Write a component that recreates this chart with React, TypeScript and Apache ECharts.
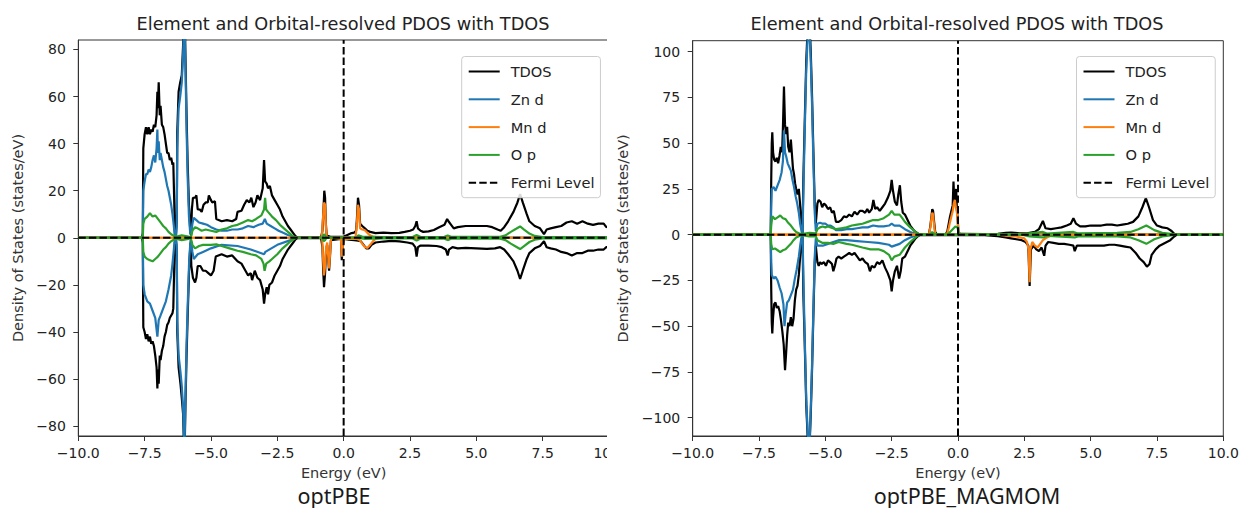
import { useEffect, useRef } from "react";
import * as echarts from "echarts";

// ---------- axis ticks ----------
const X_TICKS = [-10, -7.5, -5, -2.5, 0, 2.5, 5, 7.5, 10];
const PBE_Y_TICKS = [-80, -60, -40, -20, 0, 20, 40, 60, 80];
const MAG_Y_TICKS = [-100, -75, -50, -25, 0, 25, 50, 75, 100];

const TITLE = "Element and Orbital-resolved PDOS with TDOS";
const X_NAME = "Energy (eV)";
const Y_NAME = "Density of States (states/eV)";
const LEGEND_NAMES = ["TDOS", "Zn d", "Mn d", "O p", "Fermi Level"];

// ---------- optPBE : [energy (eV), DOS (states/eV)], spin up > 0, spin down < 0 ----------
const PBE_TDOS_UP = [
  [-10, 0], [-7.6, 0], [-7.57, 2], [-7.55, 38], [-7.5, 44], [-7.45, 47], [-7.4, 44], [-7.35, 47], [-7.3, 44],
  [-7.25, 46], [-7.2, 45], [-7.15, 48], [-7.1, 47], [-7.05, 52], [-7.02, 62], [-7.0, 55], [-6.97, 66], [-6.93, 52],
  [-6.9, 56], [-6.85, 48], [-6.8, 47], [-6.75, 44], [-6.7, 40], [-6.65, 36], [-6.6, 36], [-6.55, 33], [-6.5, 34],
  [-6.45, 31], [-6.42, 32], [-6.39, 18], [-6.36, 3], [-6.32, 1], [-6.29, 8], [-6.27, 45], [-6.22, 62], [-6.16, 66],
  [-6.1, 69], [-6.05, 82], [-6.0, 100], [-5.96, 76], [-5.92, 52], [-5.88, 32], [-5.83, 14], [-5.78, 3], [-5.75, 1],
  [-5.72, 12], [-5.68, 17], [-5.6, 17], [-5.55, 18], [-5.5, 12], [-5.42, 12], [-5.35, 11], [-5.28, 14], [-5.2, 15],
  [-5.12, 15], [-5.08, 18], [-5.0, 16], [-4.95, 15], [-4.85, 15.5], [-4.8, 8], [-4.6, 7], [-4.4, 7.5], [-4.2, 7],
  [-4.05, 8], [-4.0, 11], [-3.85, 11.5], [-3.75, 14], [-3.65, 16], [-3.55, 15], [-3.48, 17], [-3.4, 13], [-3.32, 15],
  [-3.25, 18], [-3.15, 16], [-3.05, 21], [-3.0, 33], [-2.96, 24], [-2.9, 23], [-2.85, 21], [-2.78, 22], [-2.7, 18],
  [-2.6, 16], [-2.5, 14], [-2.4, 12], [-2.3, 9], [-2.2, 7], [-2.1, 5], [-2.0, 3.5], [-1.9, 2], [-1.8, 0.5],
  [-1.75, 0.2], [-0.85, 0.2], [-0.8, 3], [-0.76, 12], [-0.73, 20], [-0.7, 17], [-0.67, 6], [-0.64, 1], [-0.5, 0.4],
  [-0.1, 0.4], [0.0, 0.5], [0.1, 1], [0.2, 1.5], [0.3, 2], [0.4, 2.2], [0.47, 3], [0.5, 8], [0.54, 17], [0.58, 14],
  [0.62, 6], [0.7, 5], [0.8, 4], [0.9, 3], [1.0, 2.5], [1.2, 2], [1.5, 2.2], [1.8, 2], [2.1, 2.1], [2.3, 2.5],
  [2.5, 3], [2.62, 3.5], [2.7, 5], [2.75, 7], [2.8, 4], [2.9, 3], [3.0, 2.5], [3.2, 2.7], [3.4, 3.3], [3.6, 4.5],
  [3.8, 5.5], [3.9, 8], [3.95, 7], [4.05, 5.5], [4.15, 4], [4.3, 4.5], [4.6, 5], [5.0, 5], [5.4, 5], [5.6, 4.5],
  [5.8, 3.5], [5.92, 3], [6.05, 4.5], [6.2, 7], [6.4, 11], [6.55, 15], [6.65, 18.5], [6.75, 15], [6.9, 10],
  [7.0, 7], [7.2, 5], [7.4, 4], [7.55, 1.5], [7.65, 3.5], [7.8, 4], [8.0, 4.5], [8.2, 5], [8.4, 6.5], [8.6, 7],
  [8.8, 6], [9.0, 7], [9.2, 6], [9.4, 5.5], [9.6, 6], [9.8, 6], [9.9, 4.5], [10, 5],
];
const PBE_TDOS_DN = [
  [-10, 0], [-7.6, 0], [-7.57, -2], [-7.55, -38], [-7.5, -40], [-7.45, -43], [-7.4, -41], [-7.35, -44], [-7.3, -42],
  [-7.25, -45], [-7.2, -44], [-7.15, -46], [-7.1, -50], [-7.05, -55], [-7.02, -64], [-7.0, -56], [-6.97, -62],
  [-6.93, -50], [-6.9, -52], [-6.85, -48], [-6.8, -46], [-6.75, -42], [-6.7, -40], [-6.65, -37], [-6.6, -36],
  [-6.55, -34], [-6.5, -33], [-6.45, -32], [-6.42, -30], [-6.39, -15], [-6.36, -2], [-6.32, -1], [-6.29, -6],
  [-6.27, -40], [-6.22, -55], [-6.15, -62], [-6.1, -68], [-6.05, -75], [-6.0, -95], [-5.96, -70], [-5.92, -50],
  [-5.87, -30], [-5.82, -12], [-5.77, -2], [-5.74, -12], [-5.68, -17], [-5.6, -19], [-5.55, -17], [-5.5, -12],
  [-5.4, -12], [-5.3, -14], [-5.2, -14], [-5.1, -15], [-5.0, -16], [-4.9, -14], [-4.82, -8], [-4.6, -7], [-4.4, -8],
  [-4.2, -7.5], [-4.0, -10], [-3.85, -11], [-3.7, -14], [-3.6, -16], [-3.5, -15], [-3.45, -18], [-3.35, -14],
  [-3.25, -17], [-3.15, -18], [-3.05, -22], [-3.0, -28], [-2.96, -24], [-2.9, -21], [-2.85, -24], [-2.8, -20],
  [-2.7, -19], [-2.6, -16], [-2.5, -14], [-2.4, -12], [-2.3, -9], [-2.2, -7], [-2.1, -5], [-2.0, -3.5], [-1.9, -2],
  [-1.8, -0.5], [-1.75, -0.2], [-0.85, -0.2], [-0.8, -4], [-0.77, -14], [-0.74, -21], [-0.7, -15], [-0.66, -5],
  [-0.62, -3], [-0.58, -9], [-0.55, -14], [-0.52, -9], [-0.48, -1], [-0.1, -0.5], [-0.07, -9.5], [-0.03, -3],
  [0.0, -0.5], [0.2, -0.8], [0.4, -1], [0.55, -1.2], [0.65, -1.5], [0.75, -3], [0.85, -4.5], [0.95, -4.5],
  [1.05, -3], [1.2, -2], [1.5, -1.6], [1.8, -1.3], [2.1, -1.5], [2.4, -2], [2.6, -2.5], [2.7, -4], [2.75, -8],
  [2.8, -4], [2.9, -3.3], [3.2, -3.3], [3.5, -3.5], [3.7, -4], [3.85, -5], [3.92, -7.5], [3.97, -5], [4.1, -4],
  [4.3, -4.5], [4.6, -4.3], [5.0, -4.5], [5.4, -4.7], [5.7, -4.5], [5.9, -4], [6.05, -5], [6.2, -7], [6.4, -10],
  [6.55, -14], [6.65, -17.5], [6.75, -14], [6.9, -9], [7.0, -6.5], [7.2, -4.5], [7.4, -3.5], [7.55, -1.5],
  [7.65, -4], [7.8, -4.5], [8.0, -5], [8.2, -6], [8.4, -6.5], [8.6, -7.5], [8.8, -6.5], [9.0, -6.5], [9.2, -5.5],
  [9.4, -5.5], [9.6, -5], [9.8, -5], [9.9, -4], [10, -4],
];
const PBE_ZN_UP = [
  [-10, 0], [-7.57, 0], [-7.55, 20], [-7.5, 24], [-7.45, 27], [-7.4, 27], [-7.35, 29], [-7.3, 28], [-7.25, 30],
  [-7.2, 33], [-7.15, 35], [-7.1, 32], [-7.05, 38], [-7.02, 46], [-7.0, 36], [-6.97, 41], [-6.93, 33], [-6.9, 36],
  [-6.85, 33], [-6.8, 30], [-6.75, 28], [-6.7, 25], [-6.65, 22], [-6.6, 20], [-6.55, 17], [-6.5, 14], [-6.45, 10],
  [-6.4, 5], [-6.37, 1], [-6.32, 0.5], [-6.29, 5], [-6.27, 38], [-6.22, 55], [-6.16, 60], [-6.1, 66], [-6.05, 78],
  [-6.0, 96], [-5.96, 72], [-5.92, 46], [-5.88, 26], [-5.83, 9], [-5.78, 1.5], [-5.74, 2], [-5.7, 6], [-5.65, 8.5],
  [-5.55, 7.5], [-5.45, 6.5], [-5.3, 6], [-5.15, 5.5], [-5.0, 4.5], [-4.8, 3.5], [-4.6, 3], [-4.4, 3], [-4.2, 3.5],
  [-4.0, 3.5], [-3.8, 4], [-3.6, 5], [-3.4, 4.5], [-3.2, 5.5], [-3.05, 6], [-2.97, 8], [-2.9, 6], [-2.75, 5],
  [-2.6, 4], [-2.45, 3], [-2.3, 2.2], [-2.1, 1.2], [-1.95, 0.5], [-1.8, 0], [10, 0],
];
const PBE_ZN_DN = [
  [-10, 0], [-7.57, 0], [-7.55, -20], [-7.5, -24], [-7.4, -27], [-7.3, -28], [-7.2, -31], [-7.1, -34],
  [-7.02, -42], [-6.97, -35], [-6.9, -33], [-6.8, -30], [-6.7, -27], [-6.6, -22], [-6.5, -16], [-6.45, -11],
  [-6.4, -5], [-6.37, -1], [-6.32, -0.5], [-6.29, -3], [-6.27, -35], [-6.22, -50], [-6.15, -57], [-6.1, -63],
  [-6.05, -72], [-6.0, -92], [-5.96, -66], [-5.92, -45], [-5.87, -26], [-5.82, -9], [-5.77, -1], [-5.74, -2],
  [-5.7, -6], [-5.65, -9], [-5.5, -7], [-5.3, -6], [-5.0, -4.5], [-4.6, -3], [-4.0, -3.5], [-3.5, -5], [-3.0, -7],
  [-2.95, -6], [-2.5, -3], [-2.0, -1], [-1.8, 0], [10, 0],
];
const PBE_MN_UP = [
  [-10, 0], [-0.82, 0], [-0.78, 8], [-0.74, 15], [-0.7, 14], [-0.67, 5], [-0.64, 0.5], [-0.6, 0], [0.45, 0.3],
  [0.5, 6], [0.54, 14], [0.58, 12], [0.62, 4], [0.7, 3.5], [0.8, 3.2], [0.9, 2], [1.0, 1], [1.1, 0.5], [1.3, 0.2],
  [1.6, 0], [10, 0],
];
const PBE_MN_DN = [
  [-10, 0], [-0.81, 0], [-0.77, -10], [-0.74, -16], [-0.7, -12], [-0.66, -4], [-0.62, -2], [-0.58, -8],
  [-0.55, -13], [-0.52, -8], [-0.48, -1], [-0.45, 0], [-0.1, -0.5], [-0.07, -8], [-0.03, -3], [0.0, -0.5],
  [0.5, -0.5], [0.6, -1], [0.7, -2.5], [0.8, -4], [0.9, -4.3], [1.0, -3], [1.1, -1.5], [1.2, -0.5], [1.4, 0], [10, 0],
];
const PBE_O_UP = [
  [-10, 0], [-7.57, 0], [-7.55, 6], [-7.5, 8], [-7.4, 9], [-7.3, 10.5], [-7.2, 9], [-7.1, 9.5], [-7.0, 8],
  [-6.9, 6.5], [-6.8, 5], [-6.7, 4], [-6.6, 2.5], [-6.5, 1.5], [-6.4, 0.8], [-6.3, 0.5], [-6.1, 1], [-5.9, 0.6],
  [-5.77, 0.3], [-5.74, 1], [-5.7, 3], [-5.6, 4.5], [-5.5, 4], [-5.35, 3], [-5.2, 3.5], [-5.0, 3], [-4.8, 2.5],
  [-4.6, 3.5], [-4.4, 4], [-4.2, 5], [-4.0, 5.5], [-3.8, 6.5], [-3.6, 7.5], [-3.45, 7], [-3.3, 8], [-3.1, 9.5],
  [-3.0, 12], [-2.96, 17], [-2.92, 12], [-2.85, 11], [-2.7, 9], [-2.55, 7.5], [-2.4, 5.5], [-2.25, 4], [-2.1, 2.5],
  [-1.95, 1], [-1.8, 0], [-0.8, 0], [-0.75, 1.5], [-0.7, 1], [-0.65, 0], [0.5, 0], [0.55, 1], [0.7, 0.5],
  [1.5, 0.3], [2.6, 0.3], [2.75, 1.2], [2.9, 0.3], [3.8, 0.4], [3.92, 1], [4.05, 0.4], [5.9, 0.4], [6.1, 1],
  [6.3, 2.5], [6.5, 3.8], [6.65, 4.8], [6.8, 3.5], [7.0, 1.8], [7.2, 0.8], [7.5, 0.3], [10, 0.3],
];
const PBE_O_DN = [
  [-10, 0], [-7.57, 0], [-7.55, -6], [-7.5, -8], [-7.4, -9], [-7.3, -9.5], [-7.2, -10], [-7.1, -9], [-7.0, -8],
  [-6.9, -6.5], [-6.8, -5], [-6.7, -4], [-6.6, -2.5], [-6.5, -1.5], [-6.4, -0.8], [-6.3, -0.5], [-6.1, -1],
  [-5.9, -0.6], [-5.77, -0.3], [-5.74, -1], [-5.7, -3], [-5.6, -4.5], [-5.45, -3.5], [-5.3, -3], [-5.0, -3],
  [-4.8, -2.8], [-4.6, -3.5], [-4.3, -4.5], [-4.0, -5.5], [-3.8, -6], [-3.5, -7], [-3.3, -7.5], [-3.1, -9],
  [-3.02, -11], [-2.98, -14], [-2.92, -11], [-2.8, -10], [-2.7, -9], [-2.5, -7], [-2.3, -4.5], [-2.15, -3],
  [-2.0, -1.5], [-1.8, 0], [-0.8, 0], [-0.75, -1.5], [-0.7, -1], [-0.65, 0], [0.5, 0], [0.8, -0.5], [1.5, -0.3],
  [2.6, -0.3], [2.75, -1.2], [2.9, -0.3], [3.8, -0.4], [3.92, -1], [4.05, -0.4], [5.9, -0.4], [6.1, -1],
  [6.3, -2.5], [6.5, -3.8], [6.65, -4.8], [6.8, -3.5], [7.0, -1.8], [7.2, -0.8], [7.5, -0.3], [10, -0.3],
];

// ---------- optPBE_MAGMOM ----------
const MAG_TDOS_UP = [
  [-10, 0], [-7.06, 0], [-7.04, 30], [-7.02, 50], [-7.0, 56], [-6.97, 45], [-6.93, 41], [-6.88, 40], [-6.83, 42],
  [-6.78, 39], [-6.73, 43], [-6.68, 48], [-6.63, 45], [-6.6, 58], [-6.56, 81], [-6.52, 60], [-6.48, 55],
  [-6.44, 59], [-6.4, 48], [-6.35, 45], [-6.3, 52], [-6.26, 44], [-6.22, 36], [-6.18, 33], [-6.14, 28],
  [-6.1, 25], [-6.05, 22], [-6.0, 25], [-5.96, 18], [-5.92, 10], [-5.88, 3], [-5.86, 1], [-5.83, 30], [-5.78, 60],
  [-5.72, 95], [-5.66, 115], [-5.6, 118], [-5.55, 100], [-5.5, 75], [-5.45, 45], [-5.4, 16], [-5.36, 6],
  [-5.3, 17], [-5.25, 19], [-5.18, 18], [-5.12, 15], [-5.05, 17], [-4.98, 16], [-4.9, 14], [-4.82, 15],
  [-4.75, 12], [-4.68, 13], [-4.6, 7], [-4.5, 7], [-4.4, 8], [-4.3, 10], [-4.2, 9.5], [-4.1, 11], [-4.0, 10],
  [-3.9, 12.5], [-3.8, 11], [-3.7, 13], [-3.6, 13], [-3.5, 12], [-3.42, 14], [-3.35, 12], [-3.25, 14],
  [-3.19, 19], [-3.12, 14], [-3.05, 15], [-2.95, 13], [-2.85, 15], [-2.75, 17], [-2.65, 20], [-2.55, 24],
  [-2.5, 30], [-2.45, 24], [-2.38, 18], [-2.3, 16], [-2.25, 22], [-2.19, 27], [-2.14, 18], [-2.08, 12],
  [-2.0, 11], [-1.9, 8], [-1.8, 5], [-1.7, 3], [-1.6, 1.5], [-1.5, 0.5], [-1.42, 0.2], [-1.1, 0.2], [-1.05, 4],
  [-1.0, 10], [-0.97, 14], [-0.94, 13], [-0.9, 7], [-0.86, 1.5], [-0.8, 0.3], [-0.45, 0.5], [-0.4, 2],
  [-0.35, 6], [-0.3, 10], [-0.25, 13], [-0.2, 16], [-0.17, 29], [-0.14, 18], [-0.1, 20], [-0.07, 25],
  [-0.04, 14], [-0.01, 8], [0.02, 1], [0.1, 0.4], [1.0, 0.3], [1.5, 0.5], [1.8, 1], [2.0, 1.2], [2.3, 0.8],
  [2.6, 0.8], [2.9, 1.5], [3.05, 3], [3.2, 7.5], [3.3, 3.5], [3.5, 3], [3.7, 3.5], [3.9, 4], [4.1, 5], [4.25, 6],
  [4.35, 9], [4.45, 6], [4.6, 4.5], [4.8, 4.5], [5.0, 5], [5.2, 5], [5.4, 5], [5.6, 5.5], [5.8, 5.5], [6.0, 5],
  [6.2, 5.5], [6.4, 6], [6.6, 7], [6.8, 10], [6.95, 15], [7.08, 20], [7.2, 15], [7.35, 8], [7.5, 5], [7.7, 4],
  [7.9, 3.5], [8.05, 2], [8.15, 0.5], [8.25, 0], [10, 0],
];
const MAG_TDOS_DN = [
  [-10, 0], [-7.06, 0], [-7.04, -30], [-7.02, -48], [-7.0, -54], [-6.97, -45], [-6.93, -38], [-6.88, -37],
  [-6.83, -40], [-6.78, -39], [-6.72, -42], [-6.67, -47], [-6.62, -53], [-6.57, -60], [-6.52, -74], [-6.48, -65],
  [-6.44, -55], [-6.4, -48], [-6.35, -50], [-6.3, -45], [-6.25, -50], [-6.2, -46], [-6.15, -36], [-6.1, -30],
  [-6.05, -28], [-6.0, -22], [-5.95, -12], [-5.9, -3], [-5.86, -1], [-5.83, -32], [-5.78, -58], [-5.72, -93],
  [-5.66, -113], [-5.6, -118], [-5.55, -98], [-5.5, -73], [-5.45, -43], [-5.4, -15], [-5.36, -6], [-5.3, -15],
  [-5.25, -17], [-5.2, -15], [-5.15, -16], [-5.05, -15], [-4.98, -17], [-4.9, -14], [-4.82, -15], [-4.75, -16],
  [-4.7, -20], [-4.64, -17], [-4.58, -13], [-4.5, -12], [-4.4, -13], [-4.3, -12], [-4.2, -11], [-4.1, -10],
  [-4.0, -11], [-3.9, -10], [-3.8, -12], [-3.7, -14], [-3.6, -13], [-3.5, -15], [-3.4, -16], [-3.32, -20],
  [-3.25, -17], [-3.15, -18], [-3.05, -15], [-2.95, -16], [-2.85, -14], [-2.75, -18], [-2.65, -21], [-2.55, -25],
  [-2.5, -31], [-2.45, -25], [-2.38, -20], [-2.3, -17], [-2.22, -24], [-2.16, -20], [-2.1, -13], [-2.0, -12],
  [-1.9, -9], [-1.8, -6], [-1.7, -4], [-1.6, -2], [-1.5, -0.7], [-1.42, -0.2], [0.0, -0.3], [1.0, -0.3],
  [1.5, -0.8], [1.8, -1.5], [2.0, -2], [2.2, -2.5], [2.4, -3], [2.55, -4], [2.65, -6], [2.7, -28], [2.75, -8],
  [2.85, -6], [2.95, -8], [3.05, -9], [3.15, -7], [3.25, -11.5], [3.3, -6], [3.4, -4], [3.6, -4.5], [3.8, -5],
  [4.0, -5], [4.2, -5.5], [4.35, -6], [4.4, -9], [4.48, -6], [4.7, -6], [4.9, -6], [5.1, -6], [5.3, -6],
  [5.5, -6], [5.7, -5.5], [5.9, -5.5], [6.1, -6], [6.3, -6.5], [6.5, -7], [6.7, -10], [6.85, -13], [7.0, -15],
  [7.12, -17.5], [7.22, -16], [7.3, -11], [7.45, -8], [7.6, -6], [7.8, -4.5], [8.0, -3], [8.15, -1], [8.25, 0],
  [10, 0],
];
const MAG_ZN_UP = [
  [-10, 0], [-7.06, 0], [-7.04, 15], [-7.02, 25], [-6.95, 26], [-6.88, 24], [-6.8, 27], [-6.72, 30], [-6.65, 34],
  [-6.6, 40], [-6.56, 57], [-6.52, 45], [-6.48, 43], [-6.42, 39], [-6.36, 37], [-6.3, 35], [-6.24, 30],
  [-6.18, 26], [-6.12, 21], [-6.06, 17], [-6.0, 12], [-5.95, 6], [-5.9, 2], [-5.86, 0.5], [-5.82, 28],
  [-5.78, 55], [-5.72, 90], [-5.66, 110], [-5.6, 113], [-5.55, 95], [-5.5, 70], [-5.45, 40], [-5.4, 12],
  [-5.36, 2], [-5.3, 6], [-5.2, 6.5], [-5.1, 6], [-5.0, 6], [-4.9, 5], [-4.8, 5], [-4.7, 4], [-4.6, 2.5],
  [-4.4, 2.5], [-4.2, 3], [-4.0, 3], [-3.8, 3.5], [-3.6, 4], [-3.4, 4], [-3.2, 5], [-3.0, 4.5], [-2.8, 4.5],
  [-2.6, 5], [-2.5, 6], [-2.4, 5], [-2.2, 5], [-2.0, 3], [-1.8, 1.5], [-1.6, 0.5], [-1.45, 0], [10, 0],
];
const MAG_ZN_DN = [
  [-10, 0], [-7.06, 0], [-7.04, -15], [-7.02, -22], [-6.95, -24], [-6.88, -23], [-6.8, -25], [-6.72, -29],
  [-6.65, -32], [-6.58, -38], [-6.54, -50], [-6.5, -44], [-6.44, -37], [-6.38, -36], [-6.3, -33], [-6.22, -30],
  [-6.15, -24], [-6.08, -19], [-6.0, -12], [-5.94, -5], [-5.9, -1.5], [-5.86, -0.5], [-5.82, -28], [-5.78, -55],
  [-5.72, -90], [-5.66, -110], [-5.6, -116], [-5.55, -95], [-5.5, -70], [-5.45, -40], [-5.4, -12], [-5.36, -2],
  [-5.3, -6], [-5.1, -6], [-4.9, -5], [-4.7, -4], [-4.5, -3], [-4.2, -3], [-3.8, -3.5], [-3.4, -4], [-3.0, -4.5],
  [-2.6, -5.5], [-2.5, -6.5], [-2.2, -5], [-2.0, -3], [-1.8, -1.5], [-1.6, -0.5], [-1.45, 0], [10, 0],
];
const MAG_MN_UP = [
  [-10, 0], [-1.1, 0], [-1.04, 4], [-1.0, 9], [-0.97, 12], [-0.94, 11], [-0.9, 5], [-0.86, 0.5], [-0.8, 0],
  [-0.42, 0.2], [-0.36, 3], [-0.3, 7], [-0.25, 10], [-0.2, 13], [-0.16, 17], [-0.12, 19], [-0.08, 15],
  [-0.04, 12], [-0.01, 6], [0.02, 0.5], [0.1, 0], [2.0, 0.2], [2.7, 0.5], [3.2, 0.3], [3.5, 0], [10, 0],
];
const MAG_MN_DN = [
  [-10, 0], [1.5, 0], [1.8, -0.5], [2.2, -1], [2.5, -2], [2.6, -4], [2.66, -8], [2.7, -26], [2.73, -8], [2.8, -4],
  [2.9, -6], [3.0, -7], [3.1, -5], [3.2, -3], [3.3, -2], [3.5, -0.5], [4.0, 0], [10, 0],
];
const MAG_O_UP = [
  [-10, 0], [-7.06, 0], [-7.04, 5], [-7.0, 10], [-6.9, 8.5], [-6.8, 9.5], [-6.7, 10.5], [-6.6, 9], [-6.5, 8.5],
  [-6.4, 6.5], [-6.3, 5], [-6.2, 3], [-6.1, 1.5], [-6.0, 0.8], [-5.9, 0.3], [-5.6, 1], [-5.36, 0.8], [-5.3, 3],
  [-5.2, 4], [-5.1, 4.5], [-5.0, 4], [-4.9, 4.5], [-4.8, 4], [-4.6, 3], [-4.4, 3.5], [-4.2, 4], [-4.0, 5],
  [-3.8, 5.5], [-3.6, 6], [-3.4, 7], [-3.2, 8], [-3.0, 8], [-2.8, 9], [-2.6, 11], [-2.5, 13], [-2.4, 11],
  [-2.2, 11], [-2.1, 9], [-2.0, 7], [-1.8, 4], [-1.6, 1.5], [-1.45, 0], [-1.05, 0], [-0.97, 1.5], [-0.9, 0.5],
  [-0.4, 0], [-0.3, 1.5], [-0.2, 3], [-0.1, 4.5], [-0.02, 4], [0.03, 0.5], [0.1, 0], [2.4, 0.2], [3.2, 1.5],
  [3.35, 0.6], [4.35, 1.5], [4.5, 0.8], [6.0, 1], [6.5, 1.5], [6.8, 3], [7.1, 5], [7.4, 2.5], [7.7, 1],
  [8.1, 0.3], [8.25, 0], [10, 0],
];
const MAG_O_DN = [
  [-10, 0], [-7.06, 0], [-7.04, -5], [-7.0, -8], [-6.9, -7.5], [-6.8, -8.5], [-6.7, -9.5], [-6.6, -8.5],
  [-6.5, -8], [-6.4, -6.5], [-6.3, -5], [-6.2, -3], [-6.1, -1.5], [-6.0, -0.8], [-5.9, -0.3], [-5.6, -1],
  [-5.36, -0.8], [-5.3, -3], [-5.1, -4.5], [-4.9, -4.5], [-4.7, -5], [-4.5, -4], [-4.2, -5], [-4.0, -5.5],
  [-3.6, -7], [-3.3, -8], [-3.0, -8], [-2.8, -9], [-2.6, -11], [-2.5, -14], [-2.4, -12], [-2.2, -11], [-2.0, -7],
  [-1.8, -4], [-1.6, -1.5], [-1.45, 0], [2.4, 0], [2.7, -1], [3.2, -1.5], [3.4, -0.6], [4.4, -1.5], [4.55, -0.8],
  [6.0, -1], [6.5, -1.5], [6.8, -3], [7.1, -5], [7.4, -2.5], [7.7, -1], [8.1, -0.3], [8.25, 0], [10, 0],
];

// ---------- styling ----------
const FONT = "DejaVu Sans";
const TEXT = "#222";
const AXIS = "#333";
const COLORS: Record<string, string> = {
  TDOS: "#000000",
  "Zn d": "#1f77b4",
  "Mn d": "#ff7f0e",
  "O p": "#2ca02c",
};
const DASH = [7.4, 3.2];

type Panel = {
  caption: string;
  width: number;
  gridLeft: number;
  gridRight: number;
  gridTop: number;
  gridBottom: number;
  yMin: number;
  yMax: number;
  yTicks: number[];
  yNameGap: number;
  titleX: number;
  captionX: number;
  legendLeft: number;
  curves: { name: string; data: number[][] }[];
};

const PBE_PANEL: Panel = {
  caption: "optPBE",
  width: 620,
  gridLeft: 78.3,
  gridRight: 11,
  gridTop: 40,
  gridBottom: 72,
  yMin: -84.2,
  yMax: 84,
  yTicks: PBE_Y_TICKS,
  yNameGap: 51,
  titleX: 343,
  captionX: 334,
  legendLeft: 461.7,
  curves: [
    { name: "TDOS", data: PBE_TDOS_UP },
    { name: "TDOS", data: PBE_TDOS_DN },
    { name: "Zn d", data: PBE_ZN_UP },
    { name: "Zn d", data: PBE_ZN_DN },
    { name: "Mn d", data: PBE_MN_UP },
    { name: "Mn d", data: PBE_MN_DN },
    { name: "O p", data: PBE_O_UP },
    { name: "O p", data: PBE_O_DN },
  ],
};

const MAG_PANEL: Panel = {
  caption: "optPBE_MAGMOM",
  width: 630,
  gridLeft: 82.7,
  gridRight: 16.7,
  gridTop: 40.7,
  gridBottom: 72,
  yMin: -110,
  yMax: 106,
  yTicks: MAG_Y_TICKS,
  yNameGap: 59.4,
  titleX: 347,
  captionX: 357,
  legendLeft: 466.5,
  curves: [
    { name: "TDOS", data: MAG_TDOS_UP },
    { name: "TDOS", data: MAG_TDOS_DN },
    { name: "Zn d", data: MAG_ZN_UP },
    { name: "Zn d", data: MAG_ZN_DN },
    { name: "Mn d", data: MAG_MN_UP },
    { name: "Mn d", data: MAG_MN_DN },
    { name: "O p", data: MAG_O_UP },
    { name: "O p", data: MAG_O_DN },
  ],
};

const withMinus = (s: string) => s.replace("-", "\u2212");

function buildOption(p: Panel) {
  const series: any[] = p.curves.map((c) => ({
    type: "line",
    name: c.name,
    data: c.data,
    symbol: "none",
    showSymbol: false,
    silent: true,
    clip: true,
    lineStyle: { color: COLORS[c.name], width: 2.2 },
    itemStyle: { color: COLORS[c.name] },
    emphasis: { disabled: true },
  }));
  // vertical Fermi level marker
  series.push({
    type: "line",
    name: "Fermi Level",
    data: [
      [0, p.yMin],
      [0, p.yMax],
    ],
    symbol: "none",
    silent: true,
    clip: true,
    lineStyle: { color: "#000", width: 2, type: DASH },
    itemStyle: { color: "#000" },
    emphasis: { disabled: true },
  });
  // horizontal zero reference
  series.push({
    type: "line",
    name: "zero",
    data: [
      [-10, 0],
      [10, 0],
    ],
    symbol: "none",
    silent: true,
    clip: true,
    lineStyle: { color: "#000", width: 2, type: DASH },
    itemStyle: { color: "#000" },
    emphasis: { disabled: true },
  });

  return {
    animation: false,
    backgroundColor: "#fff",
    textStyle: { fontFamily: FONT },
    grid: {
      left: p.gridLeft,
      right: p.gridRight,
      top: p.gridTop,
      bottom: p.gridBottom,
      show: true,
      borderColor: AXIS,
      borderWidth: 1,
      backgroundColor: "transparent",
      containLabel: false,
      outerBoundsMode: "none",
    },
    xAxis: {
      type: "value",
      min: -10,
      max: 10,
      name: X_NAME,
      nameLocation: "middle",
      nameGap: 29.5,
      nameTextStyle: { fontFamily: FONT, fontSize: 14.5, color: "#333" },
      axisLine: { show: true, onZero: false, lineStyle: { color: AXIS, width: 1 } },
      axisTick: { show: true, inside: false, length: 5, lineStyle: { color: AXIS, width: 1 }, customValues: X_TICKS },
      axisLabel: {
        customValues: X_TICKS,
        formatter: (v: number) => withMinus(v.toFixed(1)),
        fontFamily: FONT,
        fontSize: 14,
        color: TEXT,
        margin: 10,
      },
      splitLine: { show: false },
    },
    yAxis: {
      type: "value",
      min: p.yMin,
      max: p.yMax,
      name: Y_NAME,
      nameLocation: "middle",
      nameGap: p.yNameGap,
      nameRotate: 90,
      nameTextStyle: { fontFamily: FONT, fontSize: 14.5, color: "#333" },
      axisLine: { show: true, onZero: false, lineStyle: { color: AXIS, width: 1 } },
      axisTick: { show: true, inside: false, length: 5, lineStyle: { color: AXIS, width: 1 }, customValues: p.yTicks },
      axisLabel: {
        customValues: p.yTicks,
        formatter: (v: number) => withMinus(String(Math.round(v))),
        fontFamily: FONT,
        fontSize: 14,
        color: TEXT,
        margin: 12.5,
      },
      splitLine: { show: false },
    },
    legend: {
      data: LEGEND_NAMES,
      orient: "vertical",
      left: p.legendLeft,
      top: 56.5,
      padding: [7.5, 6, 7.5, 6],
      itemWidth: 31,
      itemHeight: 14,
      itemGap: 12.8,
      backgroundColor: "rgba(255,255,255,0.85)",
      borderColor: "#cccccc",
      borderWidth: 1,
      borderRadius: 3,
      selectedMode: false,
      itemStyle: { opacity: 0 },
      textStyle: { fontFamily: FONT, fontSize: 14.6, color: TEXT, padding: [0, 0, 0, 6] },
    },
    graphic: [
      {
        type: "text",
        x: p.titleX,
        y: 24,
        silent: true,
        style: {
          text: TITLE,
          fontFamily: FONT,
          fontSize: 17.7,
          fill: TEXT,
          align: "center",
          verticalAlign: "middle",
        },
      },
      {
        type: "text",
        x: p.captionX,
        y: 495,
        silent: true,
        style: {
          text: p.caption,
          fontFamily: "Noto Sans",
          fontSize: 21.5,
          fill: "#1a1a1a",
          align: "center",
          verticalAlign: "middle",
        },
      },
    ],
    series,
  };
}

function DosChart({ panel }: { panel: Panel }) {
  const ref = useRef<HTMLDivElement | null>(null);
  useEffect(() => {
    if (!ref.current) return;
    const chart = echarts.init(ref.current, null, { renderer: "svg" });
    chart.setOption(buildOption(panel) as any);
    return () => chart.dispose();
  }, [panel]);
  return <div ref={ref} style={{ width: panel.width, height: 508 }} />;
}

export default function App() {
  return (
    <div
      style={{
        position: "absolute",
        left: 0,
        top: 0,
        width: 1240,
        height: 508,
        background: "#fff",
        overflow: "hidden",
      }}
    >
      <div style={{ position: "absolute", left: 0, top: 0, width: 607, height: 508, overflow: "hidden" }}>
        <DosChart panel={PBE_PANEL} />
      </div>
      <div style={{ position: "absolute", left: 610, top: 0, width: 630, height: 508 }}>
        <DosChart panel={MAG_PANEL} />
      </div>
    </div>
  );
}
